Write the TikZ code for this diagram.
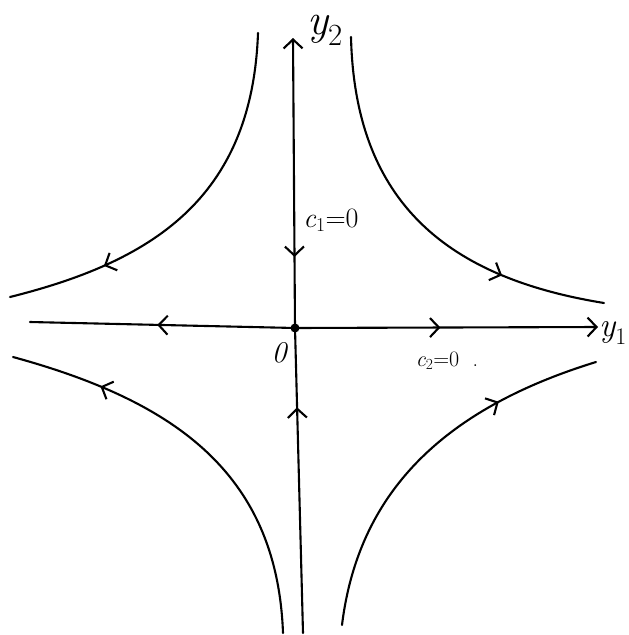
\documentclass[tikz,border=0pt]{standalone}
\usepackage{fontspec}
\usetikzlibrary{arrows.meta,decorations.markings}
\tikzset{
  pen/.style={line width=2.1pt, line cap=round, line join=round},
  chevtip/.tip={Straight Barb[length=9pt,width=19pt]},
  fwdmark/.style={postaction={decorate}, decoration={markings, mark=at position #1 with {\arrow{chevtip}}}},
  revmark/.style={postaction={decorate}, decoration={markings, mark=at position #1 with {\arrowreversed{chevtip}}}},
  lbl/.style={inner sep=0pt, font=\fontsize{#1}{#1}\selectfont},
}
\begin{document}
\begin{tikzpicture}[x=1pt,y=-1pt]
\useasboundingbox (0,0) rectangle (629,635);
% axes
\coordinate (O) at (295,328);
\coordinate (ytop) at (293,38);
\coordinate (ybot) at (303,633);
\coordinate (xleft) at (30,322);
\coordinate (xright) at (598,327);
\draw[pen, -chevtip, revmark=0.245] (O) -- (ytop);
\draw[pen, fwdmark=0.74] (ybot) -- (O);
\draw[pen, fwdmark=0.52] (O) -- (xleft);
\draw[pen, -chevtip, fwdmark=0.48] (O) -- (xright);
\fill (O) circle (4.5pt);
% trajectories
\coordinate (a0) at (258,33);  \coordinate (a3) at (10,297);
\coordinate (b0) at (351,37);  \coordinate (b3) at (604,303);
\coordinate (c0) at (283,633); \coordinate (c3) at (13,357);
\coordinate (d0) at (342,625); \coordinate (d3) at (596,362);
\draw[pen, fwdmark=0.75] (a0) .. controls (252,200) and (150,262) .. (a3);
\draw[pen, fwdmark=0.74] (b0) .. controls (355,205) and (450,278) .. (b3);
\draw[pen, fwdmark=0.78] (c0) .. controls (277,470) and (170,400) .. (c3);
\draw[pen, fwdmark=0.73] (d0) .. controls (358,495) and (440,410) .. (d3);
% labels
\node[lbl=44, anchor=base west] (ly2) at (307,34) {\itshape y\textsubscript{\upshape 2}};
\node[lbl=28] (lc1) at (331,220) {\itshape c\textsubscript{\upshape 1}\upshape=0};
\node[lbl=30] (lzero) at (279,353) {\itshape 0};
\node[lbl=22] (lc2) at (447,361) {\itshape c\textsubscript{\upshape 2}\upshape=0\ \ .};
\node[lbl=34, anchor=west] (ly1) at (599,333) {\itshape y\textsubscript{\upshape 1}};
\end{tikzpicture}
\end{document}
